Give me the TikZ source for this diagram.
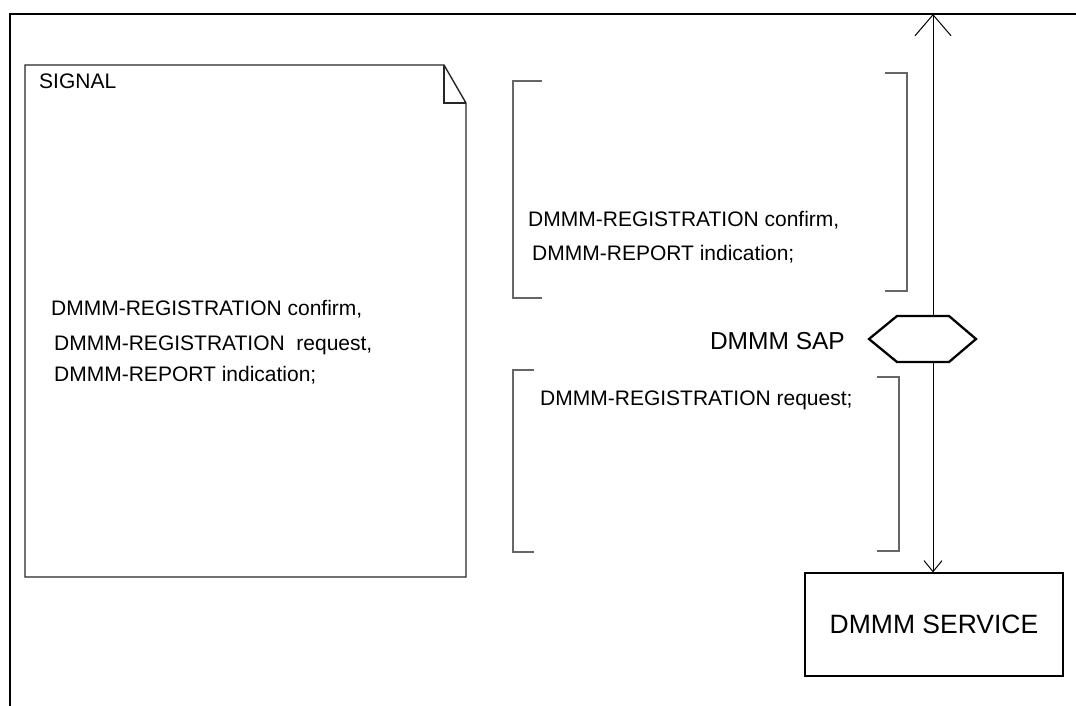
\documentclass[tikz,border=0pt]{standalone}
\usepackage{fontspec}
\setmainfont{Liberation Sans}
\usetikzlibrary{arrows.meta}
\begin{document}
\begin{tikzpicture}[x=1pt,y=-1pt,
  txt/.style={anchor=base west, inner sep=0pt, font=\fontsize{21}{25}\selectfont},
  frameline/.style={line width=2.8pt, black},
  docline/.style={line width=1.4pt, black!85},
  brk/.style={line width=1.4pt, black!60},
  hexline/.style={line width=2.3pt, black},
  conn/.style={line width=1pt, black}]
\useasboundingbox (0,0) rectangle (1076,706);
% outer frame
\draw[frameline] (10,706) -- (10,14) -- (1076,14);
% signal document
\draw[docline] (25,65) -- (444,65) -- (466,103) -- (466,577) -- (25,577) -- cycle;
\draw[docline] (444,65) -- (444,103) -- (466,103);
\node[txt] (sig) at (39,89) {SIGNAL};
\node[txt] (l1) at (51,315) {DMMM-REGISTRATION confirm,};
\node[txt] (l2) at (54,350) {DMMM-REGISTRATION\ \ request,};
\node[txt] (l3) at (54,381) {DMMM-REPORT indication;};
% upper brackets
\draw[brk] (542,81) -- (513,81) -- (513,298) -- (542,298);
\draw[brk] (885,73) -- (907,73) -- (907,291) -- (885,291);
\node[txt] (u1) at (528,226) {DMMM-REGISTRATION confirm,};
\node[txt] (u2) at (532,260) {DMMM-REPORT indication;};
% lower brackets
\draw[brk] (534,370) -- (513,370) -- (513,552) -- (534,552);
\draw[brk] (877,377) -- (899,377) -- (899,551) -- (877,551);
\node[txt] (r1) at (540,405) {DMMM-REGISTRATION request;};
% SAP hexagon
\coordinate (hl) at (869,339);
\coordinate (htl) at (897,316);
\coordinate (htop) at (933,316);
\coordinate (htr) at (949,316);
\coordinate (hr) at (976,339);
\coordinate (hbr) at (949,362);
\coordinate (hbot) at (933,362);
\coordinate (hbl) at (897,362);
\draw[hexline, line join=miter] (hl) -- (htl) -- (htr) -- (hr) -- (hbr) -- (hbl) -- cycle;
\node[anchor=base east, inner sep=0pt, font=\fontsize{24.5}{28}\selectfont] (sap) at (845,349) {DMMM SAP};
% service box
\node[draw, line width=1.2pt, minimum width=258pt, minimum height=103pt, inner sep=0pt,
      font=\fontsize{26.5}{30}\selectfont] (svc) at (934,624.5) {DMMM SERVICE};
% connectors
\coordinate (topend) at (933,14);
\draw[conn, -{Straight Barb[length=21pt,width=36pt]}] (htop) -- (topend);
\draw[conn, -{Straight Barb[length=11pt,width=18pt]}] (hbot) -- (svc.north -| hbot);
\end{tikzpicture}
\end{document}
